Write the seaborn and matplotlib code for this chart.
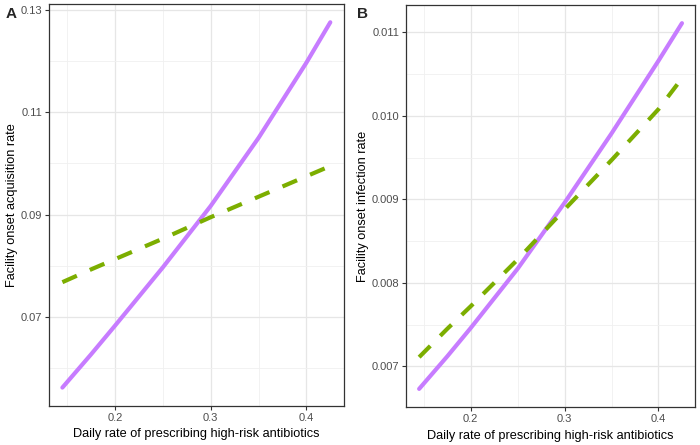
import numpy as np
import pandas as pd
import seaborn as sns
import matplotlib.pyplot as plt
from matplotlib.ticker import FixedLocator

# data
rate = [0.145, 0.175, 0.2, 0.25, 0.3, 0.35, 0.4, 0.425]

acq_solid = [0.0562, 0.0627, 0.0683, 0.0797, 0.0917, 0.1050, 0.1197, 0.1276]
acq_dashed = [0.0768, 0.0793, 0.0813, 0.0853, 0.0895, 0.0935, 0.0975, 0.0995]

inf_solid = [0.00673, 0.00712, 0.00746, 0.00817, 0.00896, 0.00979, 0.01066, 0.01111]
inf_dashed = [0.00711, 0.00745, 0.00772, 0.00828, 0.00888, 0.00947, 0.01008, 0.01045]

# tick positions
x_major = [0.2, 0.3, 0.4]
x_minor = [0.15, 0.25, 0.35]
acq_major = [0.07, 0.09, 0.11, 0.13]
acq_minor = [0.06, 0.08, 0.10, 0.12]
inf_major = [0.007, 0.008, 0.009, 0.010, 0.011]
inf_minor = [0.0065, 0.0075, 0.0085, 0.0095, 0.0105]

purple = "#C77CFF"
green = "#7CAE00"

sns.set_style("ticks")
plt.rcParams['font.family'] = ['Liberation Sans', 'DejaVu Sans']

fig = plt.figure(figsize=(7, 4.45), dpi=100)
axA = fig.add_axes([0.070, 0.088, 0.421, 0.903])
axB = fig.add_axes([0.580, 0.085, 0.413, 0.904])


def draw_panel(ax, solid, dashed, ylabel, ymajor, yminor, fmt):
    df = pd.DataFrame({"rate": rate, "solid": solid, "dashed": dashed})
    sns.lineplot(data=df, x="rate", y="solid", ax=ax, color=purple, lw=3.0)
    sns.lineplot(data=df, x="rate", y="dashed", ax=ax, color=green, lw=3.0,
                 linestyle=(0, (3.8, 3.4)))

    # ggplot-style 5% expansion
    xr = max(rate) - min(rate)
    ax.set_xlim(min(rate) - 0.05 * xr, max(rate) + 0.05 * xr)
    lo = min(min(solid), min(dashed))
    hi = max(max(solid), max(dashed))
    ax.set_ylim(lo - 0.05 * (hi - lo), hi + 0.05 * (hi - lo))

    ax.xaxis.set_major_locator(FixedLocator(x_major))
    ax.xaxis.set_minor_locator(FixedLocator(x_minor))
    ax.yaxis.set_major_locator(FixedLocator(ymajor))
    ax.yaxis.set_minor_locator(FixedLocator(yminor))
    ax.yaxis.set_major_formatter(fmt)
    ax.xaxis.set_major_formatter(lambda v, p: f"{v:.1f}")

    ax.grid(which="major", color="#E6E6E6", lw=0.9)
    ax.grid(which="minor", color="#F0F0F0", lw=0.6)
    ax.set_axisbelow(True)
    for s in ax.spines.values():
        s.set_visible(True)
        s.set_color("#333333")
        s.set_linewidth(0.9)

    ax.tick_params(which="major", bottom=True, left=True, length=3,
                   width=0.8, color="#333333", labelsize=8,
                   labelcolor="#4D4D4D", pad=2)
    ax.tick_params(which="minor", length=0)
    ax.set_xlabel("Daily rate of prescribing high-risk antibiotics", fontsize=9.2,
                  color="black", labelpad=4)
    ax.set_ylabel(ylabel, fontsize=9.2, color="black", labelpad=1.5)


draw_panel(axA, acq_solid, acq_dashed, "Facility onset acquisition rate",
           acq_major, acq_minor, lambda v, p: f"{v:.2f}")
draw_panel(axB, inf_solid, inf_dashed, "Facility onset infection rate",
           inf_major, inf_minor, lambda v, p: f"{v:.3f}")

fig.text(0.008, 0.969, "A", fontsize=11, fontweight="bold", va="center")
fig.text(0.510, 0.969, "B", fontsize=11, fontweight="bold", va="center")

fig.savefig("out.png", dpi=100)
